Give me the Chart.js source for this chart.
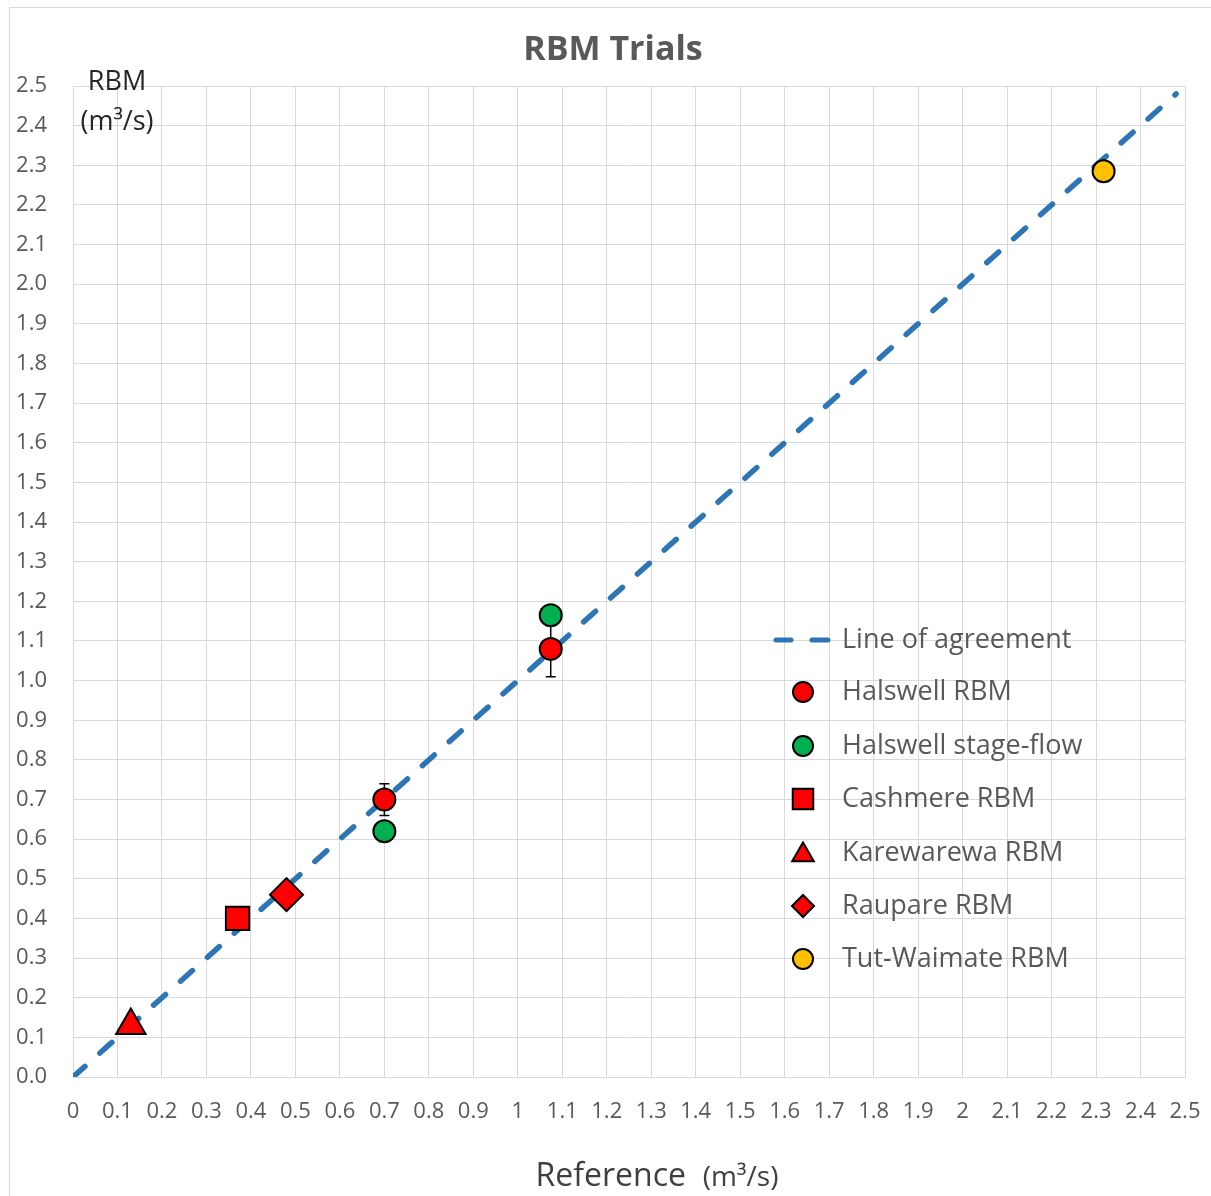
<!DOCTYPE html>
<html>
<head>
<meta charset="utf-8">
<script src="https://cdn.jsdelivr.net/npm/chart.js@4/dist/chart.umd.min.js"></script>
<style>
  html, body { margin: 0; padding: 0; background: #ffffff; }
  canvas { display: block; }
</style>
</head>
<body>
<canvas id="c" width="1211" height="1196"></canvas>
<script>
// ---------- DATA ----------
const chartTitle = 'RBM Trials';
const seriesNames = ['Line of agreement', 'Halswell RBM', 'Halswell stage-flow', 'Cashmere RBM', 'Karewarewa RBM', 'Raupare RBM', 'Tut-Waimate RBM'];

const agreementX = [0, 2.48];
const agreementY = [0, 2.48];

const halswellRbmX = [0.70, 1.074];
const halswellRbmY = [0.70, 1.08];
const halswellRbmErr = [0.04, 0.07];

const halswellStageX = [0.70, 1.074];
const halswellStageY = [0.62, 1.165];

const cashmereX = [0.37];
const cashmereY = [0.40];

const karewarewaX = [0.13];
const karewarewaY = [0.13];

const raupareX = [0.48];
const raupareY = [0.46];

const tutWaimateX = [2.317];
const tutWaimateY = [2.285];

const xTickLabels = ['0','0.1','0.2','0.3','0.4','0.5','0.6','0.7','0.8','0.9','1','1.1','1.2','1.3','1.4','1.5','1.6','1.7','1.8','1.9','2','2.1','2.2','2.3','2.4','2.5'];
const yTickLabels = ['0.0','0.1','0.2','0.3','0.4','0.5','0.6','0.7','0.8','0.9','1.0','1.1','1.2','1.3','1.4','1.5','1.6','1.7','1.8','1.9','2.0','2.1','2.2','2.3','2.4','2.5'];

const yAxisTitle = ['RBM', '(m³/s)'];
const xAxisTitleMain = 'Reference';
const xAxisTitleUnit = '(m³/s)';

// ---------- HELPERS ----------
const FONT = '"Open Sans", Lato, sans-serif';
const pts = (xs, ys) => xs.map((x, i) => ({ x: x, y: ys[i] }));
const BLUE = '#2E75B6', RED = '#FF0000', GREEN = '#00B050', YELLOW = '#FFC000';

const markerDefs = [
  null,
  { style: 'circle', color: RED, r: 11, lr: 10 },
  { style: 'circle', color: GREEN, r: 11, lr: 10 },
  { style: 'rect', color: RED, r: 16.5, lr: 14.5 },
  { style: 'triangle', color: RED, r: 17, lr: 12.5 },
  { style: 'rectRot', color: RED, r: 16.5, lr: 11 },
  { style: 'circle', color: YELLOW, r: 11, lr: 10 }
];

function scatterDs(i, data) {
  const m = markerDefs[i];
  return {
    type: 'scatter', label: seriesNames[i], data: data,
    pointStyle: m.style, pointRadius: m.r, pointHoverRadius: m.r,
    backgroundColor: m.color, borderColor: '#000000', pointBorderWidth: 2,
    showLine: false
  };
}

// ---------- PLUGINS ----------
const framePlugin = {
  id: 'frame',
  beforeDraw(chart) {
    const ctx = chart.ctx;
    ctx.save();
    ctx.fillStyle = '#ffffff';
    ctx.fillRect(0, 0, chart.width, chart.height);
    ctx.strokeStyle = '#D9D9D9';
    ctx.lineWidth = 1;
    ctx.beginPath();
    ctx.moveTo(9.5, chart.height);
    ctx.lineTo(9.5, 7.5);
    ctx.lineTo(chart.width, 7.5);
    ctx.stroke();
    ctx.restore();
  }
};

const errorBarPlugin = {
  id: 'errorBars',
  beforeDatasetsDraw(chart) {
    const ctx = chart.ctx, xs = chart.scales.x, ys = chart.scales.y;
    ctx.save();
    ctx.strokeStyle = '#000000';
    ctx.lineWidth = 1.5;
    halswellRbmX.forEach((xv, i) => {
      const px = xs.getPixelForValue(xv);
      const top = ys.getPixelForValue(halswellRbmY[i] + halswellRbmErr[i]);
      const bot = ys.getPixelForValue(halswellRbmY[i] - halswellRbmErr[i]);
      ctx.beginPath();
      ctx.moveTo(px, top); ctx.lineTo(px, bot);
      ctx.moveTo(px - 5, top); ctx.lineTo(px + 5, top);
      ctx.moveTo(px - 5, bot); ctx.lineTo(px + 5, bot);
      ctx.stroke();
    });
    ctx.restore();
  }
};

const textPlugin = {
  id: 'texts',
  afterDraw(chart) {
    const ctx = chart.ctx;
    ctx.save();
    // chart title
    ctx.fillStyle = '#595959';
    ctx.font = 'bold 34px ' + FONT;
    ctx.textAlign = 'center';
    ctx.textBaseline = 'middle';
    ctx.fillText(chartTitle, 613, 50);

    // y-axis title inside plot
    ctx.fillStyle = '#262626';
    ctx.font = '27px ' + FONT;
    ctx.fillText(yAxisTitle[0], 117, 82);
    ctx.fillText(yAxisTitle[1], 117, 122);

    // x-axis title with mixed sizes
    ctx.fillStyle = '#404040';
    ctx.textBaseline = 'alphabetic';
    ctx.textAlign = 'left';
    ctx.font = '32px ' + FONT;
    const w1 = ctx.measureText(xAxisTitleMain + '  ').width;
    ctx.font = '28px ' + FONT;
    const w2 = ctx.measureText(xAxisTitleUnit).width;
    const cx = 657;
    const start = cx - (w1 + w2) / 2;
    ctx.font = '32px ' + FONT;
    ctx.fillText(xAxisTitleMain + '  ', start, 1186);
    ctx.font = '28px ' + FONT;
    ctx.fillText(xAxisTitleUnit, start + w1, 1186);

    // legend
    const legX = 803, textX = 842;
    const rowY = [640, 692, 746, 799, 853, 906, 959];
    ctx.font = '27px ' + FONT;
    ctx.textBaseline = 'middle';
    seriesNames.forEach((name, i) => {
      const y = rowY[i];
      if (i === 0) {
        ctx.save();
        ctx.strokeStyle = BLUE;
        ctx.lineWidth = 5;
        ctx.lineCap = 'round';
        ctx.beginPath();
        ctx.moveTo(776, y); ctx.lineTo(791, y);
        ctx.moveTo(812, y); ctx.lineTo(828, y);
        ctx.stroke();
        ctx.restore();
      } else {
        const m = markerDefs[i];
        ctx.save();
        ctx.fillStyle = m.color;
        ctx.strokeStyle = '#000000';
        ctx.lineWidth = 2;
        Chart.helpers.drawPoint(ctx, { pointStyle: m.style, radius: m.lr, rotation: 0, borderWidth: 2 }, legX, y + (m.style === 'triangle' ? 2 : 0));
        ctx.restore();
      }
      ctx.fillStyle = '#595959';
      ctx.textAlign = 'left';
      ctx.fillText(name, textX, y);
    });
    ctx.restore();
  }
};

// ---------- CHART ----------
const gridColor = '#D9D9D9';
const tickFont = { family: FONT, size: 22 };

new Chart(document.getElementById('c'), {
  data: {
    datasets: [
      {
        type: 'line', label: seriesNames[0], data: pts(agreementX, agreementY),
        borderColor: BLUE, borderWidth: 5.5, borderDash: [16, 20], borderCapStyle: 'round',
        pointRadius: 0, fill: false, tension: 0, order: 10
      },
      scatterDs(1, pts(halswellRbmX, halswellRbmY)),
      scatterDs(2, pts(halswellStageX, halswellStageY)),
      scatterDs(3, pts(cashmereX, cashmereY)),
      scatterDs(4, pts(karewarewaX, karewarewaY)),
      scatterDs(5, pts(raupareX, raupareY)),
      scatterDs(6, pts(tutWaimateX, tutWaimateY))
    ]
  },
  options: {
    responsive: false,
    animation: false,
    devicePixelRatio: 1,
    layout: { padding: { left: 0, right: 26, top: 86, bottom: 0 } },
    plugins: {
      legend: { display: false },
      tooltip: { enabled: false },
      title: { display: false }
    },
    scales: {
      x: {
        type: 'linear', min: 0, max: 2.5,
        afterFit(scale) { scale.height = 119; scale.paddingLeft = 0; scale.paddingRight = 0; },
        grid: { color: gridColor, lineWidth: 1, drawTicks: false },
        border: { color: gridColor, width: 1 },
        ticks: {
          stepSize: 0.1, autoSkip: false, maxRotation: 0, minRotation: 0,
          color: '#595959', font: tickFont, padding: 22,
          callback: (v, i) => xTickLabels[i]
        }
      },
      y: {
        type: 'linear', min: 0, max: 2.5,
        afterFit(scale) { scale.width = 73; scale.paddingTop = 0; scale.paddingBottom = 0; },
        grid: { color: gridColor, lineWidth: 1, drawTicks: false },
        border: { color: gridColor, width: 1 },
        ticks: {
          stepSize: 0.1, autoSkip: false,
          color: '#595959', font: tickFont, padding: 26,
          callback: (v, i) => yTickLabels[i]
        }
      }
    }
  },
  plugins: [framePlugin, errorBarPlugin, textPlugin]
});
</script>
</body>
</html>
